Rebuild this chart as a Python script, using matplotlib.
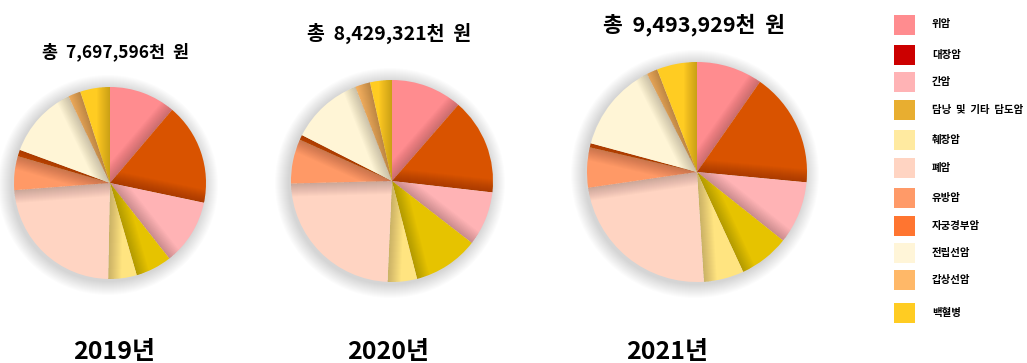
import numpy as np
import matplotlib
matplotlib.use("Agg")
import matplotlib.pyplot as plt
from matplotlib.patches import Polygon, Circle, Rectangle

plt.rcParams['font.family'] = ['Noto Sans CJK KR', 'DejaVu Sans']

# Cancer types (legend order = slice order, clockwise from 12 o'clock)
categories = ['위암', '대장암', '간암', '담낭  및  기타  담도암', '췌장암', '폐암',
              '유방암', '자궁경부암', '전립선암', '갑상선암', '백혈병']

years = ['2019년', '2020년', '2021년']
totals = ['총  7,697,596천  원', '총  8,429,321천  원', '총  9,493,929천  원']

# Share of total cost per cancer type (%)
share_2019 = [11.2, 17.1, 11.1, 6.1, 4.8, 23.5, 5.7, 1.1, 12.3, 2.1, 5.0]
share_2020 = [11.4, 15.4, 8.7, 10.5, 4.7, 23.9, 7.1, 0.8, 11.6, 2.4, 3.5]
share_2021 = [9.7, 16.8, 9.2, 7.4, 5.9, 23.7, 5.9, 0.6, 13.3, 1.6, 5.9]
shares = [share_2019, share_2020, share_2021]

pie_colors = ['#FF8C8F', '#D95300', '#FFB3B5', '#E6C300', '#FFE480', '#FFD4C2',
              '#FF9966', '#D95300', '#FFF5D6', '#F2AE5E', '#FFCC22']
legend_colors = ['#FF8C8F', '#CC0000', '#FFB3B5', '#E8AE30', '#FFEAA0', '#FFD4C2',
                 '#FF9A68', '#FF7530', '#FFF5D8', '#FFB868', '#FFCC22']

W, H = 1027, 363
fig = plt.figure(figsize=(W / 100, H / 100), dpi=100)
ax = fig.add_axes([0, 0, 1, 1])

# pie layout in pixel units (x, y from top, radius)
pie_pos = [(110, 183, 96), (392, 181, 101), (697, 172, 110)]
title_pos = [(115, 52, 12.5), (389, 33, 14), (694, 25, 15.5)]
year_pos = [(114, 352), (388, 352), (667, 352)]


def drop_shadow(cx, cy, r):
    for k in range(14):
        ax.add_patch(Circle((cx - 2, cy - 2), r + 14 - k, fc='black', ec='none',
                            alpha=0.010, zorder=1))


def shade_wedges(wedges, cx, cy, r):
    c = np.array([cx, cy], dtype=float)
    for w in wedges:
        th = np.deg2rad(w.theta1)
        d = np.array([np.cos(th), np.sin(th)])
        n = np.array([-np.sin(th), np.cos(th)])
        for k in range(1, 14):
            off = k * 1.0
            pts = [c - d * 2, c + d * r * 1.1, c + d * r * 1.1 + n * off, c - d * 2 + n * off]
            p = Polygon(pts, closed=True, fc='black', ec='none', alpha=0.014, zorder=3)
            ax.add_patch(p)
            p.set_clip_path(w)


for vals, (px, py, r), (tx, ty, ts), (yx, yy), ttl, yr in zip(
        shares, pie_pos, title_pos, year_pos, totals, years):
    cx, cy = px, H - py
    drop_shadow(cx, cy, r)
    wedges, _ = ax.pie(vals, colors=pie_colors, startangle=90, counterclock=False,
                       center=(cx, cy), radius=r, normalize=True,
                       wedgeprops=dict(linewidth=0, zorder=2))
    for w in wedges:
        w.set_zorder(2)
    shade_wedges(wedges, cx, cy, r)
    ax.text(tx, H - ty, ttl, ha='center', va='center', fontsize=ts,
            fontweight='bold', color='black', zorder=5)
    ax.text(yx, H - yy, yr, ha='center', va='center', fontsize=18,
            fontweight='bold', family=['Liberation Sans Narrow', 'Noto Sans CJK KR'],
            color='black', zorder=5)

# legend
legend_y = [24.5, 55, 82, 110, 140, 168, 198, 226, 253, 280, 313]
for lab, col, ly in zip(categories, legend_colors, legend_y):
    ax.add_patch(Rectangle((894, H - ly - 10), 21, 20, fc=col, ec='none', zorder=5))
    ax.text(932, H - ly, lab, ha='left', va='center', fontsize=7.5,
            fontweight='bold', color='black', zorder=5)

ax.set_xlim(0, W)
ax.set_ylim(0, H)
ax.set_aspect('auto')
ax.axis('off')

fig.savefig('out.png', dpi=100, facecolor='white')
